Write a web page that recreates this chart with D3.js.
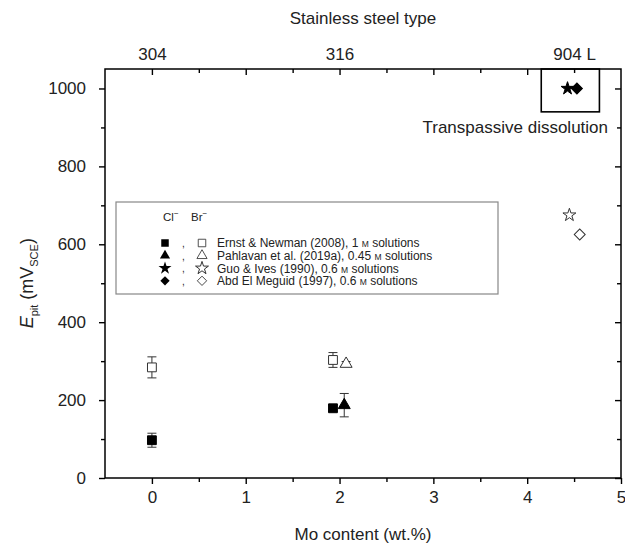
<!DOCTYPE html>
<html>
<head>
<meta charset="utf-8">
<script src="https://cdn.jsdelivr.net/npm/d3@7"></script>
<style>
  body { margin: 0; background: #fff; }
  text { font-family: "Liberation Sans", Arial, sans-serif; fill: #222; }
</style>
</head>
<body>
<div id="chart"></div>
<script>
// Legend entries (source + concentration)
const seriesNames = ["Ernst & Newman (2008), 1 ", "Pahlavan et al. (2019a), 0.45 ", "Guo & Ives (1990), 0.6 ", "Abd El Meguid (1997), 0.6 "];
const seriesShapes = ["square", "triangle", "star", "diamond"];

// Chloride points (filled symbols)
const clMo = [0, 1.93, 2.05, 4.43, 4.53];
const clE = [97, 179, 187, 1000, 1000];
const clErr = [18, 8, 30, 0, 0];
const clSeries = [0, 0, 1, 2, 3];

// Bromide points (open symbols)
const brMo = [0, 1.93, 2.07, 4.45, 4.56];
const brE = [284, 303, 293, 675, 625];
const brErr = [27, 19, 6, 0, 0];
const brSeries = [0, 0, 1, 2, 3];

// Axes ticks
const xTicks = [0, 1, 2, 3, 4, 5];
const yTicks = [0, 200, 400, 600, 800, 1000];
const steelMo = [0, 2, 4.5];
const steelLabels = ["304", "316", "904 L"];

// Transpassive box extent
const boxMo = [4.15, 4.77];
const boxE = [940, 1050];

const margin = {top: 69, right: 4, bottom: 72, left: 105},
      width = 625 - margin.left - margin.right,
      height = 550 - margin.top - margin.bottom;

const svg = d3.select("#chart").append("svg")
    .attr("width", 625).attr("height", 550)
  .append("g")
    .attr("transform", `translate(${margin.left},${margin.top})`);

const x = d3.scaleLinear().domain([-0.5, 5]).range([0, width]);
const y = d3.scaleLinear().domain([0, 1050]).range([height, 0]);

const halves = d3.range(0.5, 5, 1);
const hundreds = d3.range(100, 1050, 200);

// --- axes ---
const styleAxis = g => {
    g.select(".domain").remove();
    g.selectAll("line").attr("stroke", "#000").attr("stroke-width", 1.4);
    g.selectAll("text").style("font-size", "17px").style("font-family", "Liberation Sans, Arial, sans-serif").attr("fill", "#222");
};

svg.append("g").attr("transform", `translate(0,${height})`)
    .call(d3.axisBottom(x).tickValues(xTicks).tickSize(6).tickPadding(7).tickFormat(d3.format("d")))
    .call(styleAxis);
svg.append("g").attr("transform", `translate(0,${height})`)
    .call(d3.axisBottom(x).tickValues(halves).tickSize(4).tickFormat(""))
    .call(styleAxis);

svg.append("g")
    .call(d3.axisLeft(y).tickValues(yTicks).tickSize(6).tickPadding(13).tickFormat(d3.format("d")))
    .call(styleAxis);
svg.append("g")
    .call(d3.axisLeft(y).tickValues(hundreds).tickSize(4).tickFormat(""))
    .call(styleAxis);

// right axis, ticks pointing inward
svg.append("g").attr("transform", `translate(${width},0)`)
    .call(d3.axisLeft(y).tickValues(yTicks).tickSize(6).tickFormat(""))
    .call(styleAxis);
svg.append("g").attr("transform", `translate(${width},0)`)
    .call(d3.axisLeft(y).tickValues(hundreds).tickSize(4).tickFormat(""))
    .call(styleAxis);

// top axis, ticks pointing inward, steel type labels
svg.append("g")
    .call(d3.axisBottom(x).tickValues(xTicks.filter(v => v < 5)).tickSize(6).tickFormat(""))
    .call(styleAxis);
svg.append("g")
    .call(d3.axisBottom(x).tickValues(halves).tickSize(4).tickFormat(""))
    .call(styleAxis);
svg.append("g")
    .call(d3.axisTop(x).tickValues(steelMo).tickSize(0).tickPadding(9).tickFormat((d, i) => steelLabels[i]))
    .call(styleAxis);

// frame
svg.append("rect")
    .attr("width", width).attr("height", height)
    .attr("fill", "none").attr("stroke", "#000").attr("stroke-width", 1.5);

// axis titles
svg.append("text")
    .attr("x", width / 2).attr("y", height + 62)
    .attr("text-anchor", "middle")
    .style("font-size", "17px")
    .text("Mo content (wt.%)");

svg.append("text")
    .attr("x", width / 2).attr("y", -45)
    .attr("text-anchor", "middle")
    .style("font-size", "17px")
    .text("Stainless steel type");

const yTitle = svg.append("text")
    .attr("transform", `translate(${-72},${y(500)}) rotate(-90)`)
    .attr("text-anchor", "middle")
    .style("font-size", "18px");
yTitle.append("tspan").style("font-style", "italic").text("E");
yTitle.append("tspan").attr("dy", 5).style("font-size", "11px").text("pit");
yTitle.append("tspan").attr("dy", -5).text(" (mV");
yTitle.append("tspan").attr("dy", 5).style("font-size", "11px").text("SCE");
yTitle.append("tspan").attr("dy", -5).text(")");

// transpassive box
svg.append("rect")
    .attr("x", x(boxMo[0])).attr("y", y(boxE[1]))
    .attr("width", x(boxMo[1]) - x(boxMo[0]))
    .attr("height", y(boxE[0]) - y(boxE[1]))
    .attr("fill", "none").attr("stroke", "#000").attr("stroke-width", 1.6);

svg.append("text")
    .attr("x", width - 13).attr("y", y(boxE[0]) + 21)
    .attr("text-anchor", "end")
    .style("font-size", "17px")
    .text("Transpassive dissolution");

// symbols
const symbolFor = {
    square: d3.symbol().type(d3.symbolSquare).size(78),
    triangle: d3.symbol().type(d3.symbolTriangle).size(62),
    star: d3.symbol().type(d3.symbolStar).size(52),
    diamond: d3.symbol().type(d3.symbolSquare).size(60)
};
const rotFor = s => s === "diamond" ? " rotate(45)" : "";

const drawPoints = (mo, e, err, series, filled) => {
    mo.forEach((m, i) => {
        if (err[i] > 0) {
            const eb = svg.append("g").attr("stroke", "#333").attr("stroke-width", 1);
            eb.append("line").attr("x1", x(m)).attr("x2", x(m))
                .attr("y1", y(e[i] + err[i])).attr("y2", y(e[i] - err[i]));
            [e[i] + err[i], e[i] - err[i]].forEach(v => {
                eb.append("line").attr("x1", x(m) - 4.5).attr("x2", x(m) + 4.5)
                    .attr("y1", y(v)).attr("y2", y(v));
            });
        }
        const shape = seriesShapes[series[i]];
        svg.append("path")
            .attr("d", symbolFor[shape]())
            .attr("transform", `translate(${x(m)},${y(e[i])})${rotFor(shape)}`)
            .attr("fill", filled ? "#000" : "#fff")
            .attr("stroke", filled ? "#000" : "#333")
            .attr("stroke-width", 1);
    });
};

drawPoints(brMo, brE, brErr, brSeries, false);
drawPoints(clMo, clE, clErr, clSeries, true);

// legend
const legend = svg.append("g").attr("transform", `translate(${116 - margin.left},${202 - margin.top})`);
legend.append("rect")
    .attr("width", 382).attr("height", 92)
    .attr("fill", "#fff").attr("stroke", "#888").attr("stroke-width", 1.2);

const header = legend.append("text").attr("y", 19).style("font-size", "11.5px");
header.append("tspan").attr("x", 47).text("Cl");
header.append("tspan").attr("dy", -5).style("font-size", "8px").text("\u2212");
header.append("tspan").attr("x", 75).attr("dy", 5).text("Br");
header.append("tspan").attr("dy", -5).style("font-size", "8px").text("\u2212");

seriesNames.forEach((name, i) => {
    const cy = 41 + i * 12.6;
    const shape = seriesShapes[i];
    const k = shape === "star" ? 1 : 0.85;
    legend.append("path")
        .attr("d", symbolFor[shape]())
        .attr("transform", `translate(49,${cy}) scale(${k})${rotFor(shape)}`)
        .attr("fill", "#000");
    legend.append("text").attr("x", 66).attr("y", cy + 4)
        .style("font-size", "10px").text(",");
    legend.append("path")
        .attr("d", symbolFor[shape]())
        .attr("transform", `translate(86,${cy}) scale(${k})${rotFor(shape)}`)
        .attr("fill", "#fff").attr("stroke", "#333").attr("stroke-width", 1);
    const t = legend.append("text").attr("x", 101).attr("y", cy + 4.3).style("font-size", "12px");
    t.append("tspan").text(name);
    t.append("tspan").style("font-size", "8.5px").text("M");
    t.append("tspan").text(" solutions");
});
</script>
</body>
</html>
